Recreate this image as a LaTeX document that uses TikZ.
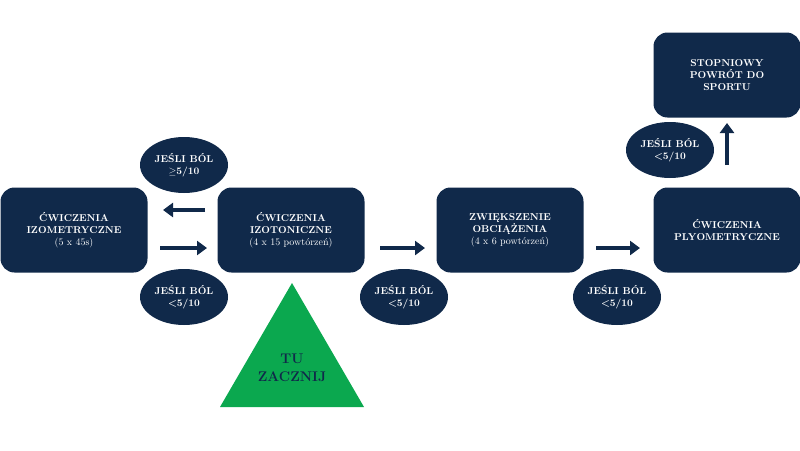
\documentclass[tikz,border=0pt]{standalone}
\usetikzlibrary{shapes.geometric,arrows.meta}
\definecolor{navy}{HTML}{10294A}
\definecolor{grn}{HTML}{0BA84F}
\begin{document}
\begin{tikzpicture}[x=1pt,y=-1pt,
 box/.style={fill=navy,rounded corners=14pt,minimum width=147pt,minimum height=85pt,text=white,font=\bfseries\fontsize{10}{12}\selectfont,align=center,inner sep=2pt},
 el/.style={ellipse,fill=navy,minimum width=88pt,minimum height=56pt,text=white,font=\bfseries\fontsize{10}{12}\selectfont,align=center,inner sep=0pt},
 arr/.style={navy,line width=4pt,-{Triangle[length=10pt,width=14pt]}}]
\useasboundingbox (0,0) rectangle (800,450);
\node[box] (b1) at (74,230) {ĆWICZENIA\\IZOMETRYCZNE\\{\mdseries (5 x 45s)}};
\node[box] (b2) at (291,230) {ĆWICZENIA\\IZOTONICZNE\\{\mdseries (4 x 15 powtórzeń)}};
\node[box] (b3) at (510,230) {ZWIĘKSZENIE\\OBCIĄŻENIA\\{\mdseries (4 x 6 powtórzeń)}};
\node[box] (b4) at (727,230) {ĆWICZENIA\\PLYOMETRYCZNE};
\node[box] (b5) at (727,75) {STOPNIOWY\\POWRÓT DO\\SPORTU};
\node[el] (e1) at (184,165) {JEŚLI BÓL\\$\geq$5/10};
\node[el] (e2) at (184,297) {JEŚLI BÓL\\<5/10};
\node[el] (e3) at (404,297) {JEŚLI BÓL\\<5/10};
\node[el] (e4) at (617,297) {JEŚLI BÓL\\<5/10};
\node[el] (e5) at (670,150) {JEŚLI BÓL\\<5/10};
\coordinate (a1s) at (205,210); \coordinate (a1e) at (163,210);
\coordinate (a2s) at (160,248); \coordinate (a2e) at (207,248);
\coordinate (a3s) at (380,248); \coordinate (a3e) at (425,248);
\coordinate (a4s) at (596,248); \coordinate (a4e) at (640,248);
\coordinate (a5s) at (727,165); \coordinate (a5e) at (727,123);
\draw[arr] (a1s) -- (a1e);
\draw[arr] (a2s) -- (a2e);
\draw[arr] (a3s) -- (a3e);
\draw[arr] (a4s) -- (a4e);
\draw[arr] (a5s) -- (a5e);
\fill[grn] (292,283) -- (364,407) -- (220,407) -- cycle;
\node[font=\bfseries\fontsize{14}{18}\selectfont,align=center,text=navy] (t) at (292,368) {TU\\ZACZNIJ};
\end{tikzpicture}
\end{document}
